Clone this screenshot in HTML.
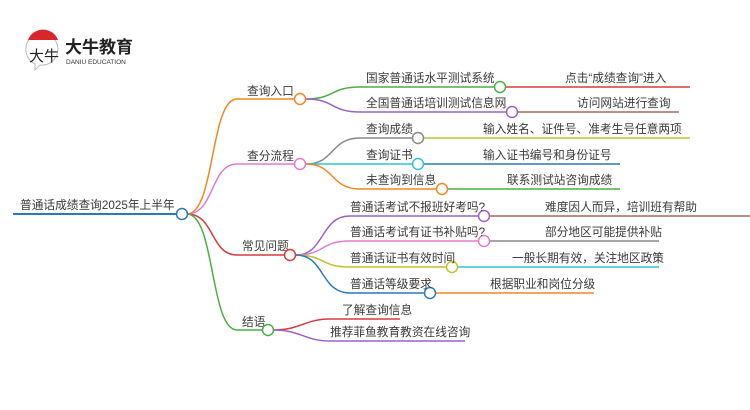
<!DOCTYPE html>
<html><head><meta charset="utf-8"><style>
html,body{margin:0;padding:0;background:#fff;width:750px;height:410px;overflow:hidden}
svg text{font-family:"Liberation Sans","Noto Sans CJK SC",sans-serif;fill:#3a3a3a;font-size:11.7px}
</style></head><body>
<svg width="750" height="410" viewBox="0 0 750 410" xmlns="http://www.w3.org/2000/svg" fill="none">
<!-- logo -->
<path d="M26,47 a16,16 0 1 1 14,18 l-5,5 l0,-6 a16,16 0 0 1 -9,-17z" stroke="#bbb" stroke-width="1" fill="#fff"/>
<path d="M28,40 a16,16 0 0 1 30,0z" fill="#d9262c"/>
<text x="29" y="61" style="font-size:15px;fill:#222">大牛</text>
<text x="65" y="53" style="font-size:17px;font-weight:bold;fill:#222">大牛教育</text>
<text x="66" y="64" style="font-size:6.5px;fill:#333">DANIU EDUCATION</text>
<!-- root -->
<path d="M13,214 H176" stroke="#2a7ab8" stroke-width="2"/>
<text x="20" y="209">普通话成绩查询2025年上半年</text>
<!-- level1 curves -->
<path d="M187,214 C215,214 210,99 237,99 H294" stroke="#f5851f" stroke-width="1.5"/>
<path d="M187,214 C215,214 210,164 237,164 H294" stroke="#e37ad0" stroke-width="1.5"/>
<path d="M187,214 C215,214 210,255 237,255 H284" stroke="#d93a3a" stroke-width="1.5"/>
<path d="M187,214 C215,214 210,330 237,330 H262" stroke="#4cae45" stroke-width="1.5"/>
<circle cx="182" cy="214" r="5.5" stroke="#2a7ab8" stroke-width="1.5" fill="#fff"/>
<text x="247" y="95">查询入口</text>
<text x="247" y="160">查分流程</text>
<text x="242" y="250">常见问题</text>
<text x="242" y="326">结语</text>
<!-- 查询入口 children -->
<path d="M306,99 C335,99 330,87 360,87 H494" stroke="#4cae45" stroke-width="1.5"/>
<path d="M306,99 C335,99 330,112 360,112 H506" stroke="#9a62c9" stroke-width="1.5"/>
<path d="M506,87 H690" stroke="#d93a3a" stroke-width="1.5"/>
<path d="M518,112 H679" stroke="#a56a5c" stroke-width="1.5"/>
<circle cx="300" cy="99" r="5.5" stroke="#f5851f" stroke-width="1.5" fill="#fff"/>
<circle cx="500" cy="87" r="5.5" stroke="#4cae45" stroke-width="1.5" fill="#fff"/>
<circle cx="512" cy="112" r="5.5" stroke="#9a62c9" stroke-width="1.5" fill="#fff"/>
<text x="366" y="82">国家普通话水平测试系统</text>
<text x="565" y="82">点击“成绩查询”进入</text>
<text x="366" y="107">全国普通话培训测试信息网</text>
<text x="577" y="107">访问网站进行查询</text>
<!-- 查分流程 children -->
<path d="M306,164 C335,164 330,138 360,138 H412" stroke="#888" stroke-width="1.5"/>
<path d="M306,164 H412" stroke="#2ec4d6" stroke-width="1.5"/>
<path d="M306,164 C335,164 330,189 360,189 H436" stroke="#f5851f" stroke-width="1.5"/>
<path d="M424,138 H690" stroke="#c4c12a" stroke-width="1.5"/>
<path d="M424,164 H620" stroke="#2a7ab8" stroke-width="1.5"/>
<path d="M448,189 H620" stroke="#4cae45" stroke-width="1.5"/>
<circle cx="300" cy="164" r="5.5" stroke="#e37ad0" stroke-width="1.5" fill="#fff"/>
<circle cx="418" cy="138" r="5.5" stroke="#888" stroke-width="1.5" fill="#fff"/>
<circle cx="418" cy="164" r="5.5" stroke="#2ec4d6" stroke-width="1.5" fill="#fff"/>
<circle cx="442" cy="189" r="5.5" stroke="#f5851f" stroke-width="1.5" fill="#fff"/>
<text x="366" y="133">查询成绩</text>
<text x="483" y="133">输入姓名、证件号、准考生号任意两项</text>
<text x="366" y="159">查询证书</text>
<text x="483" y="159">输入证书编号和身份证号</text>
<text x="366" y="184">未查询到信息</text>
<text x="507" y="184">联系测试站咨询成绩</text>
<!-- 常见问题 children -->
<path d="M296,255 C325,255 320,216 350,216 H478" stroke="#9a62c9" stroke-width="1.5"/>
<path d="M296,255 C325,255 320,241 350,241 H478" stroke="#e37ad0" stroke-width="1.5"/>
<path d="M296,255 C325,255 320,267 350,267 H446" stroke="#c4c12a" stroke-width="1.5"/>
<path d="M296,255 C325,255 320,293 350,293 H424" stroke="#2a7ab8" stroke-width="1.5"/>
<path d="M490,216 H750" stroke="#a56a5c" stroke-width="1.5"/>
<path d="M490,241 H659" stroke="#888" stroke-width="1.5"/>
<path d="M458,267 H659" stroke="#2ec4d6" stroke-width="1.5"/>
<path d="M436,293 H594" stroke="#f5851f" stroke-width="1.5"/>
<circle cx="290" cy="255" r="5.5" stroke="#d93a3a" stroke-width="1.5" fill="#fff"/>
<circle cx="484" cy="216" r="5.5" stroke="#9a62c9" stroke-width="1.5" fill="#fff"/>
<circle cx="484" cy="241" r="5.5" stroke="#e37ad0" stroke-width="1.5" fill="#fff"/>
<circle cx="452" cy="267" r="5.5" stroke="#c4c12a" stroke-width="1.5" fill="#fff"/>
<circle cx="430" cy="293" r="5.5" stroke="#2a7ab8" stroke-width="1.5" fill="#fff"/>
<text x="350" y="211">普通话考试不报班好考吗?</text>
<text x="545" y="211">难度因人而异，培训班有帮助</text>
<text x="350" y="236">普通话考试有证书补贴吗?</text>
<text x="545" y="236">部分地区可能提供补贴</text>
<text x="350" y="262">普通话证书有效时间</text>
<text x="512" y="262">一般长期有效，关注地区政策</text>
<text x="350" y="288">普通话等级要求</text>
<text x="490" y="288">根据职业和岗位分级</text>
<!-- 结语 children -->
<path d="M274,330 C300,330 305,319 330,319 H400" stroke="#d93a3a" stroke-width="1.5"/>
<path d="M274,330 C300,330 305,341 330,341 H465" stroke="#9a62c9" stroke-width="1.5"/>
<circle cx="268" cy="330" r="5.5" stroke="#4cae45" stroke-width="1.5" fill="#fff"/>
<text x="342" y="314">了解查询信息</text>
<text x="330" y="336">推荐菲鱼教育教资在线咨询</text>
</svg>
</body></html>
